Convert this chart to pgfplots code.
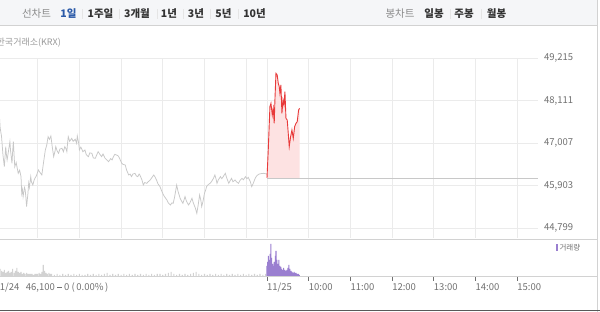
\documentclass[border=0pt]{standalone}
\usepackage{fontspec}
\setmainfont{Noto Sans CJK KR}
\usepackage{pgfplots}
\pgfplotsset{compat=1.18}
\usepackage{pgfplotstable}
\definecolor{gridc}{HTML}{EBEBEB}
\definecolor{linegray}{HTML}{C8C8C8}
\definecolor{redline}{HTML}{E83A3A}
\definecolor{redfill}{HTML}{FDE2E2}
\definecolor{volpurple}{HTML}{9A7FD0}
\definecolor{volgray}{HTML}{D2D2D2}
\definecolor{barbg}{HTML}{F5F6F8}
\definecolor{sepc}{HTML}{D2D2D2}
\definecolor{tabdark}{HTML}{333333}
\definecolor{tabgray}{HTML}{8A8A8A}
\definecolor{tabblue}{HTML}{2B5AA8}
\definecolor{ticklab}{HTML}{707070}

\pgfplotstableread{
m v
0 46950
3 47300
5 47691
6 47400
8 47171
10 46700
12 46392
13 46650
14 46912
15 46700
16 46566
18 46800
20 47042
21 46800
23 46479
24 46800
25 47042
26 46700
27 46392
29 46500
32 46219
34 46300
36 46133
37 45700
38 45800
39 45613
41 45850
42 45786
43 45600
44 45353
46 45700
47 45959
48 45850
50 46133
51 46000
53 45916
55 46050
56 46089
58 46150
61 46306
63 46250
66 46176
68 46450
71 46825
73 46950
75 47171
77 47100
79 47189
81 46900
83 46652
85 46800
86 46912
88 46800
90 46739
92 46850
95 46869
97 46780
99 46912
101 46850
102 46782
103 47000
104 47171
106 47050
109 47128
111 47050
114 47103
116 47000
117 47189
119 47000
120 46825
122 46900
123 46869
125 46780
128 46825
130 46700
133 46652
135 46750
138 46739
140 46620
143 46609
145 46700
147 46782
150 46700
152 46652
154 46720
157 46609
160 46560
162 46522
165 46600
167 46566
169 46650
171 46713
174 46690
176 46670
178 46600
181 46479
183 46450
186 46436
188 46300
191 46176
193 46200
195 46133
197 46200
200 46219
202 46150
204 46133
206 46200
207 46176
210 46050
212 45916
214 45980
217 45959
219 46000
222 46046
224 46100
227 46176
229 46120
231 46046
233 45950
236 45873
238 45780
241 45656
243 45600
246 45526
248 45450
251 45397
253 45450
255 45440
257 45600
260 45916
262 45750
265 45570
267 45500
269 45440
271 45550
272 45613
274 45500
277 45397
279 45450
282 45570
284 45450
287 45310
289 45180
291 45400
293 45656
295 45500
296 45353
298 45500
300 45700
302 45800
303 45873
305 45920
308 45959
310 46000
313 46089
315 46176
317 46050
318 45959
320 46050
323 46133
325 46080
327 46133
330 46219
332 46100
335 45959
337 46030
339 46089
341 46000
344 46046
346 46000
349 45959
351 46030
354 46089
356 46050
359 46133
361 46080
363 46115
366 46000
368 45873
370 45950
373 46089
375 46150
378 46195
381 46210
385 46219
390 46200
}\prevday

\pgfplotstableread{
m v
390 46100
391.8 46825
394.2 47951
395.7 48038
397.6 47735
399 47908
400.4 47518
401.4 48124
402.9 48817
404.7 48774
406.2 48557
407.6 48471
408.6 48298
410 48514
411.5 47778
413 48124
414.4 47995
415.8 48341
417.3 47648
419.1 47605
420.6 47258
422 46912
424 47172
425.9 47345
427.8 47128
429.8 47432
431.7 47518
433.5 47562
435.5 47865
436.9 47908
}\today

\pgfplotstableread{
m v
390 46100
391.8 46825
394.2 47951
395.7 48038
397.6 47735
399 47908
400.4 47518
401.4 48124
402.9 48817
404.7 48774
406.2 48557
407.6 48471
408.6 48298
410 48514
411.5 47778
413 48124
414.4 47995
415.8 48341
417.3 47648
419.1 47605
420.6 47258
422 46912
424 47172
425.9 47345
427.8 47128
429.8 47432
431.7 47518
433.5 47562
435.5 47865
436.9 47908
436.9 46100
}\todayfill

\pgfplotstableread{
m v
0 8
2 16
4 12
6 7
8 5
10 4
12 6
14 3
16 4
18 5
20 3
22 4
24 7
26 3
28 5
30 8
32 4
34 3
36 4
38 2
40 3
42 2
44 3
46 2
48 2
50 2
52 2
54 1
56 2
58 2
60 2
62 3
64 2
66 4
68 11
70 5
72 3
74 2
76 3
78 2
80 2
84 1
88 2
92 1
96 2
100 1
104 2
108 1
112 2
116 1
120 2
124 1
128 1
132 2
136 1
140 2
144 1
148 2
152 1
156 2
160 3
164 1
168 2
172 1
176 2
180 1
184 2
188 1
192 2
196 1
200 2
204 1
208 2
212 1
216 2
220 1
224 2
228 1
232 2
236 2
240 1
244 2
248 3
252 4
256 2
260 1
264 2
268 1
272 2
276 1
280 2
284 3
288 4
292 2
296 1
300 2
304 1
308 2
312 1
316 2
320 1
324 2
328 1
332 2
336 1
340 2
344 1
348 2
352 1
356 2
360 1
364 2
368 1
372 2
376 1
380 2
384 1
388 2
}\volprev

\pgfplotstableread{
m v
390 10
391 14
392 20
393 16
394.5 22
395.6 32
396.5 18
398 12
399 10
400.5 14
402 20
403 25
404 16
405.5 12
407 16
408.5 10
410 9
411 7
412.5 6
414 8
415.5 6
417 5
418.5 6
420 8
421.5 11
423 7
424.5 5
426 4
427.5 3
429 4
430.5 3
432 3
433.5 2
435 2
436.5 1
}\voltoday

\begin{document}
\begin{tikzpicture}
\useasboundingbox (0pt,0pt) rectangle (600pt,312pt);
\begin{scope}
\clip (0pt,0pt) rectangle (600pt,312pt);
\fill[white] (0pt,0pt) rectangle (600pt,312pt);
% top bar
\fill[barbg] (0pt,286pt) rectangle (597pt,312pt);
\draw[sepc] (0pt,286.5pt) -- (597pt,286.5pt);
\begin{scope}[every node/.style={font=\fontsize{10.5}{12}\selectfont\bfseries, text=tabdark, inner sep=0pt}]
\node[text=tabgray, font=\fontsize{10.5}{12}\selectfont] at (36.5pt,298pt) {선차트};
\node[text=tabblue] at (68.5pt,298pt) {1일};
\node at (100.5pt,298pt) {1주일};
\node at (137pt,298pt) {3개월};
\node at (169pt,298pt) {1년};
\node at (196pt,298pt) {3년};
\node at (223.5pt,298pt) {5년};
\node at (254.5pt,298pt) {10년};
\node[text=tabgray, font=\fontsize{10.5}{12}\selectfont] at (400pt,298pt) {봉차트};
\node at (434pt,298pt) {일봉};
\node at (464pt,298pt) {주봉};
\node at (496.5pt,298pt) {월봉};
\end{scope}
\foreach \sx in {82,119,157,183,210,238,450,481}
  \draw[black!10] (\sx pt,293pt) -- (\sx pt,303pt);
\node[anchor=west, inner sep=0pt, text=black!40, font=\fontsize{9}{10}\selectfont] at (-3.5pt,269pt) {한국거래소(KRX)};

% main price chart
\begin{axis}[
  at={(-4pt,74pt)}, anchor=south west, scale only axis,
  width=542pt, height=180pt,
  xmin=0, xmax=780, ymin=44539, ymax=49215,
  axis line style={draw=none},
  xtick={60,120,180,240,300,360,390,450,510,570,630,690,750},
  xticklabels={},
  ytick={44799,45903,47007,48111,49215},
  yticklabels={{44,799},{45,903},{47,007},{48,111},{49,215}},
  scaled y ticks=false,
  yticklabel pos=right,
  major tick length=0pt,
  xmajorgrids, ymajorgrids,
  grid style={gridc, line width=0.8pt},
  yticklabel style={anchor=west, xshift=6pt, text=ticklab, font=\fontsize{9.5}{10}\selectfont, inner sep=0pt},
  clip=true,
]
\addplot[draw=none, fill=redfill] table[x=m, y=v] {\todayfill} -- cycle;
\addplot[linegray, line width=0.8pt] coordinates {(390,46100) (780,46100)};
\addplot[linegray, line width=0.75pt] table[x=m, y=v] {\prevday};
\addplot[redline, line width=0.9pt] table[x=m, y=v] {\today};
\end{axis}

% volume
\begin{axis}[
  at={(-4pt,36pt)}, anchor=south west, scale only axis,
  width=542pt, height=37pt,
  xmin=0, xmax=780, ymin=0, ymax=37,
  axis line style={draw=none},
  ytick=\empty,
  xtick={0,390,450,510,570,630,690,750},
  xticklabels={{\hspace*{-1.5pt}11/24\ \ \ 46,100\ \rule[2.8pt]{5pt}{1.4pt}\ 0\ (\,0.00\%\,)},{11/25},{10:00},{11:00},{12:00},{13:00},{14:00},{15:00}},
  tick pos=bottom, tick align=outside,
  major tick length=5pt,
  tick style={ticklab, line width=0.6pt},
  xticklabel style={anchor=north west, inner sep=0pt, yshift=-2pt, text=ticklab, font=\fontsize{9.5}{10}\selectfont},
  legend style={at={(1.032,0.76)}, anchor=west, draw=none, fill=none, inner sep=0pt, font=\fontsize{7.5}{8}\selectfont, text=ticklab},
  legend image code/.code={\fill[volpurple] (0pt,-3.5pt) rectangle (2pt,3.5pt);},
  legend cell align=left,
]
\addplot[ybar, bar width=1.6, draw=none, fill=volgray, forget plot] table[x=m, y=v] {\volprev};
\addplot[ybar, bar width=1.6, draw=none, fill=volpurple] table[x=m, y=v] {\voltoday};
\addlegendentry{거래량}
\end{axis}

\draw[sepc, line width=0.8pt] (0pt,73pt) -- (597pt,73pt);
\draw[sepc, line width=0.8pt] (0pt,36pt) -- (597pt,36pt);
\draw[sepc, line width=0.8pt] (597.5pt,0pt) -- (597.5pt,312pt);
\draw[black!65, line width=1.5pt] (0pt,1.5pt) -- (600pt,1.5pt);
\end{scope}
\end{tikzpicture}
\end{document}
